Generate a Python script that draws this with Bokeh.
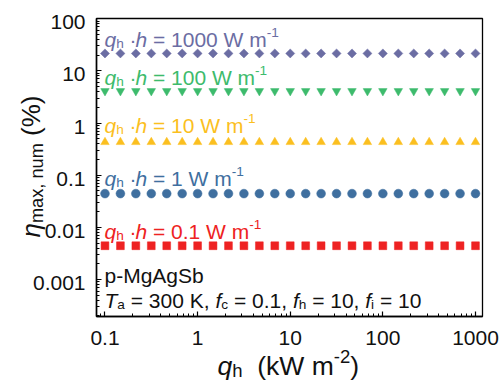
import math
from bokeh.plotting import figure
from bokeh.layouts import row, column
from bokeh.models import Label, FixedTicker, CustomJSTickFormatter, Range1d
from bokeh.embed import file_html
from bokeh.resources import INLINE

# ---------------- data ----------------
q_h_kW = [0.1, 0.1468, 0.2154, 0.3162, 0.4642, 0.6813, 1.0, 1.468, 2.154, 3.162,
          4.642, 6.813, 10.0, 14.68, 21.54, 31.62, 46.42, 68.13, 100.0, 146.8,
          215.4, 316.2, 464.2, 681.3, 1000.0]
eta_qh_1000 = [21.6, 21.6, 21.6, 21.6, 21.6, 21.6, 21.6, 21.6, 21.6, 21.6, 21.6, 21.6, 21.6,
               21.6, 21.6, 21.6, 21.6, 21.6, 21.6, 21.6, 21.6, 21.6, 21.6, 21.6, 21.6]
eta_qh_100 = [4.1, 4.1, 4.1, 4.1, 4.1, 4.1, 4.1, 4.1, 4.1, 4.1, 4.1, 4.1, 4.1,
              4.1, 4.1, 4.1, 4.1, 4.1, 4.1, 4.1, 4.1, 4.1, 4.1, 4.1, 4.1]
eta_qh_10 = [0.43, 0.43, 0.43, 0.43, 0.43, 0.43, 0.43, 0.43, 0.43, 0.43, 0.43, 0.43, 0.43,
             0.43, 0.43, 0.43, 0.43, 0.43, 0.43, 0.43, 0.43, 0.43, 0.43, 0.43, 0.43]
eta_qh_1 = [0.0443, 0.0443, 0.0443, 0.0443, 0.0443, 0.0443, 0.0443, 0.0443, 0.0443, 0.0443,
            0.0443, 0.0443, 0.0443, 0.0443, 0.0443, 0.0443, 0.0443, 0.0443, 0.0443, 0.0443,
            0.0443, 0.0443, 0.0443, 0.0443, 0.0443]
eta_qh_01 = [0.00443, 0.00443, 0.00443, 0.00443, 0.00443, 0.00443, 0.00443, 0.00443, 0.00443,
             0.00443, 0.00443, 0.00443, 0.00443, 0.00443, 0.00443, 0.00443, 0.00443, 0.00443,
             0.00443, 0.00443, 0.00443, 0.00443, 0.00443, 0.00443, 0.00443]
series_labels = ["1000", "100", "10", "1", "0.1"]
x_ticks = [0.1, 1, 10, 100, 1000]
y_ticks = [0.001, 0.01, 0.1, 1, 10, 100]

# ---------------- layout geometry (canvas pixels) ----------------
W_, H_ = 499, 388
L, R, T, B = 96, 482, 18, 316
WL = 88            # width of the left strip (y title + y tick labels)
HM = 320           # height of the main figure
XMIN, XMAX = 0.081, 1190
YMIN, YMAX = 1.95e-4, 101
FONT = "Liberation Sans"
BASE_FIX = 4       # compensation for label baseline placement
TXT = "#111111"

C_PURPLE = "#6b6da3"
C_GREEN = "#3dbb6c"
C_YELLOW = "#fbbf1f"
C_BLUE = "#3f6f9f"
C_RED = "#ee2222"

lx0, lx1 = math.log10(XMIN), math.log10(XMAX)
ly0, ly1 = math.log10(YMIN), math.log10(YMAX)
ppd_x = (R - L) / (lx1 - lx0)
ppd_y = (B - T) / (ly1 - ly0)

# ---------------- main figure ----------------
p = figure(width=W_ - WL, height=HM, x_axis_type="log", y_axis_type="log",
           x_range=Range1d(XMIN, XMAX), y_range=Range1d(YMIN, YMAX),
           output_backend="svg", toolbar_location=None,
           min_border_left=L - WL, min_border_right=W_ - R,
           min_border_top=T, min_border_bottom=HM - B)
p.grid.visible = False
p.outline_line_color = "black"
p.outline_line_width = 1.3
p.background_fill_color = "white"
p.border_fill_color = "white"

minor_x = [m * 10.0 ** e for e in range(-2, 4) for m in range(2, 10)]
minor_y = [m * 10.0 ** e for e in range(-4, 3) for m in range(2, 10)]
p.xaxis.ticker = FixedTicker(ticks=x_ticks, minor_ticks=minor_x)
p.yaxis.ticker = FixedTicker(ticks=y_ticks, minor_ticks=minor_y)
for ax in (p.xaxis[0], p.yaxis[0]):
    ax.formatter = CustomJSTickFormatter(code="return '';")
    ax.major_tick_in = 5
    ax.major_tick_out = 0
    ax.minor_tick_in = 3
    ax.minor_tick_out = 0
    ax.axis_line_width = 1.5
    ax.major_tick_line_width = 1.2
    ax.minor_tick_line_width = 1.0
    ax.major_label_text_font_size = "0px"
    ax.major_label_standoff = 0

p.scatter(q_h_kW, eta_qh_1000, marker="square", angle=math.pi / 4, size=6.4,
          fill_color=C_PURPLE, line_color=C_PURPLE, line_width=0.5)
p.scatter(q_h_kW, eta_qh_100, marker="inverted_triangle", size=8.5,
          fill_color=C_GREEN, line_color=C_GREEN, line_width=0.5)
p.scatter(q_h_kW, eta_qh_10, marker="triangle", size=8.5,
          fill_color=C_YELLOW, line_color=C_YELLOW, line_width=0.5)
p.scatter(q_h_kW, eta_qh_1, marker="circle", size=8.8,
          fill_color=C_BLUE, line_color=C_BLUE, line_width=0.5)
p.scatter(q_h_kW, eta_qh_01, marker="square", size=7.8,
          fill_color=C_RED, line_color=C_RED, line_width=0.5)


def strip_fig(w, h, xr, yr, x_type="linear", y_type="linear"):
    f = figure(width=w, height=h, x_range=xr, y_range=yr,
               x_axis_type=x_type, y_axis_type=y_type,
               x_axis_location=None, y_axis_location=None, min_border=0,
               output_backend="svg", toolbar_location=None)
    f.grid.visible = False
    f.outline_line_color = None
    f.background_fill_color = "white"
    f.border_fill_color = "white"
    return f


# left strip: log y scale aligned with the main frame, spanning the whole height
left = strip_fig(WL, H_, Range1d(0, WL),
                 Range1d(10 ** (ly0 - (H_ - B) / ppd_y), 10 ** (ly1 + T / ppd_y)),
                 y_type="log")
# bottom strip: log x scale aligned with the main frame, y in pixels from its top
bottom = strip_fig(W_ - WL, H_ - HM,
                   Range1d(10 ** (lx0 - (L - WL) / ppd_x), 10 ** (lx1 + (W_ - R) / ppd_x)),
                   Range1d(H_ - HM, 0), x_type="log")

# ---------------- rich text helper ----------------
WID = {' ': 278, '.': 278, ',': 278, '=': 584, '-': 333, '(': 333, ')': 333, '%': 889,
       '\u00b7': 278, 'a': 556, 'b': 556, 'c': 500, 'f': 278, 'g': 556, 'h': 556, 'i': 222,
       'k': 500, 'm': 833, 'n': 556, 'p': 556, 'q': 556, 'u': 556, 'x': 500,
       'A': 667, 'K': 667, 'M': 833, 'S': 667, 'T': 611, 'W': 944, '\u03b7': 556}


def tw(s, size):
    return sum(WID.get(c, 556) for c in s) * size / 1000.0


def conv_main(X, Y):
    return 10 ** (lx0 + (X - L) / ppd_x), 10 ** (ly1 - (Y - T) / ppd_y)


def conv_left(X, Y):
    return X, 10 ** (ly1 - (Y - T) / ppd_y)


def conv_bottom(X, Y):
    return 10 ** (lx0 + (X - L) / ppd_x), Y - HM


def rich(fig, conv, X, Y, runs, color, F, vertical=False):
    for text, style, scale, shift in runs:
        size = F * scale
        core = text.strip(" ")
        lead = len(text) - len(text.lstrip(" "))
        pre = tw(" " * lead, size)
        if vertical:
            PX, PY = X + shift * F - BASE_FIX, Y - pre
        else:
            PX, PY = X + pre, Y + shift * F - BASE_FIX
        x, y = conv(PX, PY)
        if core:
            fig.add_layout(Label(x=x, y=y, text=core, text_font=FONT,
                                 text_font_size=f"{size:.2f}px", text_font_style=style,
                                 text_color=color, text_align="left",
                                 text_baseline="alphabetic",
                                 angle=(math.pi / 2 if vertical else 0)))
        if vertical:
            Y -= tw(text, size)
        else:
            X += tw(text, size)


SUB, SUP = 0.65, 0.65
series_colors = [C_PURPLE, C_GREEN, C_YELLOW, C_BLUE, C_RED]
series_baselines = [43, 81, 129, 182, 235]
for lab, col, yb in zip(series_labels, series_colors, series_baselines):
    rich(p, conv_main, 104, yb,
         [("q", "italic", 1, 0), ("h", "normal", SUB, 0.2),
          (" \u00b7", "normal", 1, 0), ("h", "italic", 1, 0),
          (f" = {lab} W m", "normal", 1, 0), ("-1", "normal", SUP, -0.33)], col, 21)

rich(p, conv_main, 104, 279, [("p-MgAgSb", "normal", 1, 0)], TXT, 21)
rich(p, conv_main, 104, 304,
     [("T", "italic", 1, 0), ("a", "normal", SUB, 0.2),
      (" = 300 K, ", "normal", 1, 0), ("f", "italic", 1, 0), ("c", "normal", SUB, 0.2),
      (" = 0.1, ", "normal", 1, 0), ("f", "italic", 1, 0), ("h", "normal", SUB, 0.2),
      (" = 10, ", "normal", 1, 0), ("f", "italic", 1, 0), ("i", "normal", SUB, 0.2),
      (" = 10", "normal", 1, 0)], TXT, 21)

# tick labels, placed on the strips' own log scales (aligned with the main frame)
for t in y_ticks:
    left.add_layout(Label(x=85, y=t, text=f"{t:g}", text_font=FONT, text_font_size="21px",
                          text_color=TXT, text_align="right", text_baseline="alphabetic",
                          y_offset=BASE_FIX - 0.358 * 21))
for t in x_ticks:
    s = f"{t:g}"
    bottom.add_layout(Label(x=t, y=341.5 - BASE_FIX - HM, text=s, text_font=FONT,
                            text_font_size="21px", text_color=TXT, text_align="right",
                            x_offset=tw(s, 21) / 2, text_baseline="alphabetic"))

# axis titles
rich(bottom, conv_bottom, 217, 369,
     [("q", "italic", 1, 0), ("h", "normal", 0.7, 0.2),
      ("  (kW m", "normal", 1, 0), ("-2", "normal", 0.7, -0.33),
      (")", "normal", 1, 0)], TXT, 26.5)
rich(left, conv_left, 34, 237,
     [("\u03b7", "italic", 1, 0), ("max, num", "normal", 0.7, 0.25),
      (" (%)", "normal", 1, 0)], TXT, 26, vertical=True)

# the bottom strip is wrapped in its own row so that its frame is not aligned
# with the main frame (it needs the full width for the outer tick labels)
layout = row(left, column(p, row(bottom)))
open("out.html", "w").write(file_html(layout, INLINE))
